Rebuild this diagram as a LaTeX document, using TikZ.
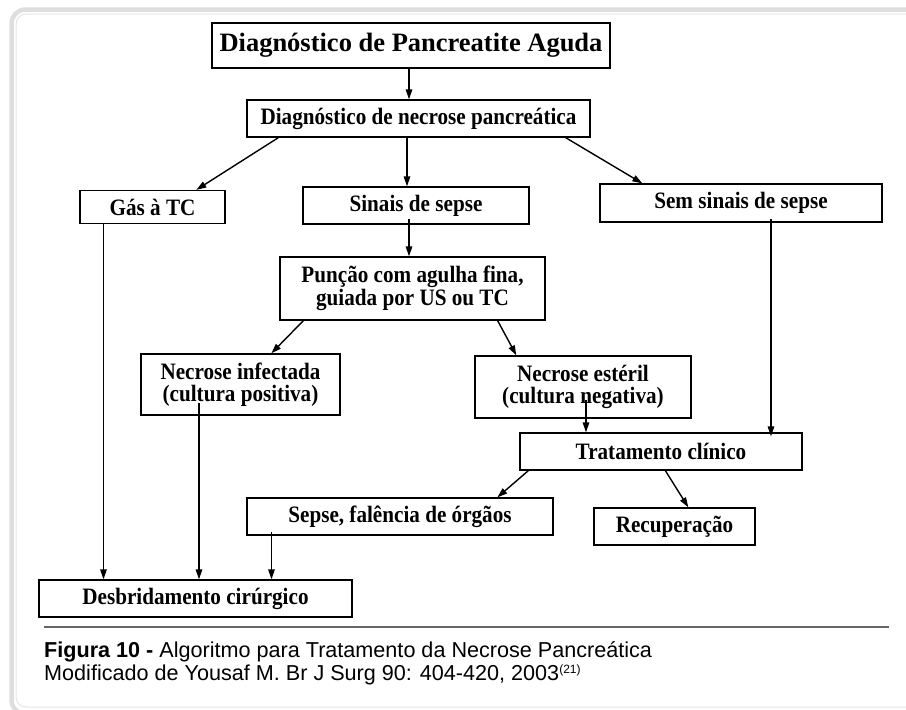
\documentclass[tikz,border=0pt]{standalone}
\usepackage{fontspec}
\setmainfont{Liberation Serif}
\setsansfont{Liberation Sans}
\newfontfamily\boxfont{Liberation Serif}[FakeStretch=0.9]
\usetikzlibrary{arrows.meta}
\begin{document}
\begin{tikzpicture}[x=1pt,y=-1pt,
  box/.style={draw=black, line width=1.3pt, inner sep=0pt, align=center,
    font=\boxfont\bfseries\fontsize{23.5}{22.5}\selectfont},
  conn/.style={line width=1.4pt, -{Triangle[length=10pt,width=6.5pt]}},
  capfont/.style={font=\sffamily\fontsize{21.6}{23}\selectfont}]
\useasboundingbox (0,0) rectangle (906,710);
\begin{scope}
  \clip (0,0) rectangle (906,710);
  \draw[line width=4.5pt, color=black!13, rounded corners=14pt] (11.5,9.5) rectangle (940,714);
  \draw[line width=1pt, color=black!10, rounded corners=10pt] (16,14) rectangle (940,707);
\end{scope}

% nodes
\node[box, minimum width=398pt, minimum height=45pt,
      font=\bfseries\fontsize{26.5}{28}\selectfont] (title) at (411,45.5) {Diagnóstico de Pancreatite Aguda};
\node[box, minimum width=343pt, minimum height=37pt] (necpan) at (418.5,118.5) {Diagnóstico de necrose pancreática};
\node[box, minimum width=145pt, minimum height=33pt] (gas) at (152.5,207) {Gás à TC};
\node[box, minimum width=226pt, minimum height=37pt] (sinais) at (416,205.5) {Sinais de sepse};
\node[box, minimum width=282pt, minimum height=38pt] (sem) at (741,203) {Sem sinais de sepse};
\node[box, minimum width=265pt, minimum height=63pt] (punc) at (412.5,288.5) {Punção com agulha fina,\\guiada por US ou TC};
\node[box, minimum width=199pt, minimum height=61pt] (infect) at (240.5,384.5) {Necrose infectada\\(cultura positiva)};
\node[box, minimum width=216pt, minimum height=62pt] (esteril) at (583,387) {Necrose estéril\\(cultura negativa)};
\node[box, minimum width=282pt, minimum height=37pt] (trat) at (661,451.5) {Tratamento clínico};
\node[box, minimum width=306pt, minimum height=37pt] (sepse) at (400,516.5) {Sepse, falência de órgãos};
\node[box, minimum width=161pt, minimum height=37pt] (recup) at (674.5,526.5) {Recuperação};
\node[box, minimum width=313pt, minimum height=37pt] (desb) at (195.5,598.5) {Desbridamento cirúrgico};

% inner start points
\coordinate (sSinais) at (409,219);
\coordinate (sSem) at (771,219);
\coordinate (sInf) at (199,403);
\coordinate (sEst) at (586,400);
\coordinate (sSep) at (271.5,532);

% connectors
\draw[conn] (title.south -| 409,0) -- (necpan.north -| 409,0);
\draw[conn] ([xshift=32pt]necpan.south west) -- ([xshift=117pt]gas.north west);
\draw[conn] (necpan.south -| 407,0) -- (sinais.north -| 407,0);
\draw[conn] ([xshift=-25pt]necpan.south east) -- ([xshift=43pt]sem.north west);
\draw[conn] (sSinais) -- (punc.north -| sSinais);
\draw[conn] (gas.south -| 103.5,0) -- (desb.north -| 103.5,0);
\draw[conn] ([xshift=24pt]punc.south west) -- ([xshift=131pt]infect.north west);
\draw[conn] ([xshift=-48pt]punc.south east) -- ([xshift=42pt]esteril.north west);
\draw[conn] (sInf) -- (desb.north -| sInf);
\draw[conn] (sEst) -- (trat.north -| sEst);
\draw[conn] (sSem) -- ([yshift=-4pt]trat.north -| sSem);
\draw[conn] ([xshift=9pt]trat.south west) -- ([xshift=251pt]sepse.north west);
\draw[conn] ([xshift=146pt]trat.south west) -- ([xshift=95pt]recup.north west);
\draw[conn] (sSep) -- (desb.north -| sSep);

% caption
\coordinate (l1) at (44,627);
\coordinate (l2) at (889,627);
\draw[line width=1.5pt, color=black!60] (l1) -- (l2);
\node[capfont, anchor=base west, inner sep=0pt] (cap1) at (44,657)
  {\textbf{Figura 10 -} Algoritmo para Tratamento da Necrose Pancreática};
\node[capfont, anchor=base west, inner sep=0pt] (cap2) at (44,680)
  {Modificado de Yousaf M. Br J Surg 90: 404-420, 2003\raisebox{7pt}{\fontsize{12}{12}\selectfont(21)}};
\end{tikzpicture}
\end{document}
